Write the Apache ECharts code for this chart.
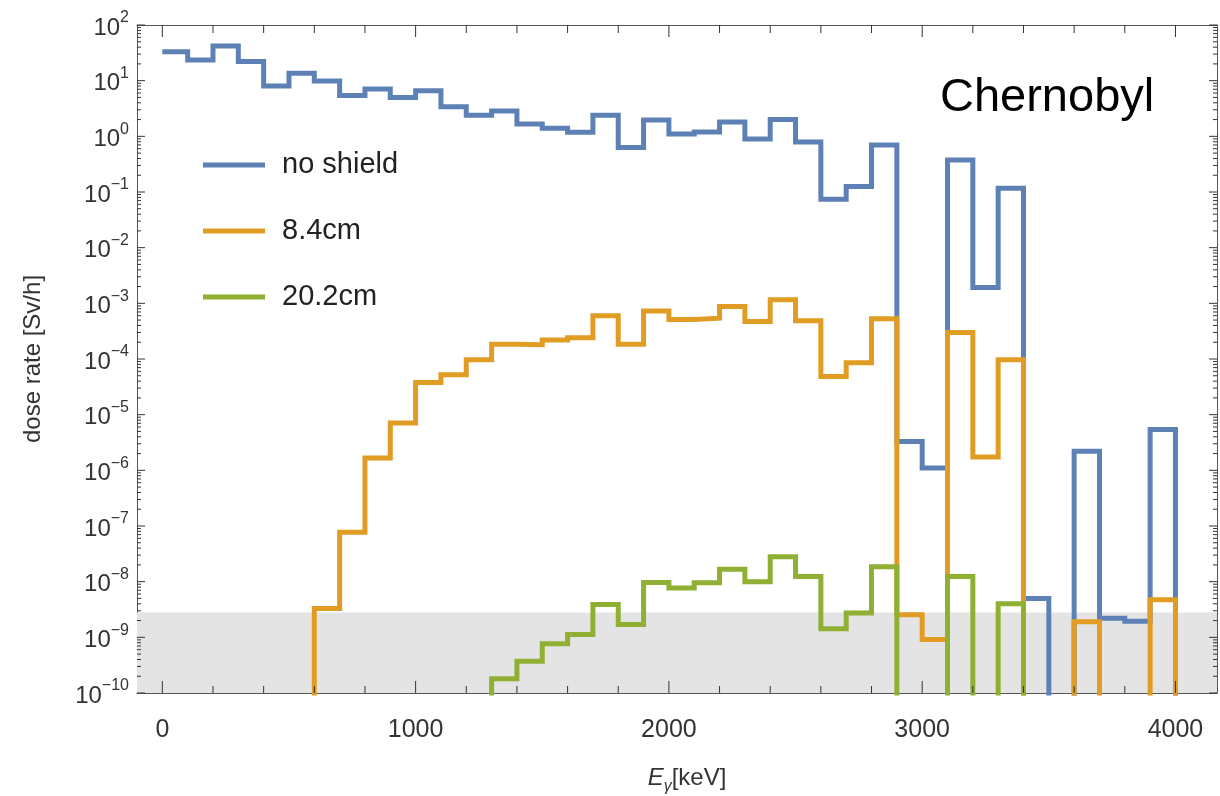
<!DOCTYPE html>
<html>
<head>
<meta charset="utf-8">
<script src="https://cdn.jsdelivr.net/npm/echarts@6/dist/echarts.min.js"></script>
<style>
html,body{margin:0;padding:0;background:#fff;}
#chart{width:1220px;height:796px;}
</style>
</head>
<body>
<div id="chart"></div>
<script>
// ---- data (bin lower edges in keV, 100 keV wide bins; 0 = nothing in this bin) ----
const binEdges = [0,100,200,300,400,500,600,700,800,900,1000,1100,1200,1300,1400,1500,1600,1700,1800,1900,
                  2000,2100,2200,2300,2400,2500,2600,2700,2800,2900,3000,3100,3200,3300,3400,3500,3600,3700,3800,3900,4000];
const seriesNames = ['no shield', '8.4cm', '20.2cm'];
const noShield = [33, 23.5, 42, 22, 8.0, 13.6, 9.9, 5.4, 7.1, 5.0,
                  6.6, 3.4, 2.4, 2.86, 1.67, 1.40, 1.19, 2.4, 0.63, 1.97,
                  1.10, 1.2, 1.8, 0.9, 2.0, 0.79, 0.074, 0.125, 0.70, 3.3e-6,
                  1.1e-6, 0.377, 1.92e-3, 0.117, 5.0e-9, 0, 2.2e-6, 2.2e-9, 1.95e-9, 5.4e-6];
const shield84 = [0, 0, 0, 0, 0, 0, 3.3e-9, 7.7e-8, 1.66e-6, 7.1e-6,
                  3.8e-5, 5.2e-5, 9.7e-5, 1.85e-4, 1.8e-4, 2.2e-4, 2.4e-4, 6.0e-4, 1.85e-4, 7.3e-4,
                  5.1e-4, 5.4e-4, 8.8e-4, 4.7e-4, 1.16e-3, 4.85e-4, 4.85e-5, 8.6e-5, 5.3e-4, 2.55e-9,
                  9.1e-10, 3.0e-4, 1.73e-6, 9.7e-5, 0, 0, 1.9e-9, 0, 0, 4.75e-9];
const shield202 = [0, 0, 0, 0, 0, 0, 0, 0, 0, 0,
                   0, 0, 0, 1.8e-10, 3.7e-10, 7.7e-10, 1.12e-9, 3.9e-9, 1.7e-9, 9.7e-9,
                   7.7e-9, 9.6e-9, 1.67e-8, 1.0e-8, 2.8e-8, 1.24e-8, 1.42e-9, 2.74e-9, 1.86e-8, 0,
                   0, 1.24e-8, 0, 4.0e-9, 0, 0, 0, 0, 0, 0];
const detectionLimit = 2.8e-9;
const xMajorTicks = [0, 1000, 2000, 3000, 4000];
const xMinorTicks = [200, 400, 600, 800, 1200, 1400, 1600, 1800, 2200, 2400, 2600, 2800, 3200, 3400, 3600, 3800];
const yDecadeMin = -10, yDecadeMax = 2;
const plotTitle = 'Chernobyl';

// ---- helpers ----
const FONT = '"Liberation Sans", Arial, Helvetica, sans-serif';
const colors = ['#5E81B5', '#E19C24', '#8FB032'];
const FLOOR = 1e-14; // below the axis minimum, clipped by the grid
const X_MIN = -100, X_MAX = 4164;
const Y_MIN = Math.pow(10, yDecadeMin), Y_MAX = Math.pow(10, yDecadeMax);

function stepPoints(vals) {
  const pts = [];
  for (let i = 0; i < vals.length; i++) {
    const x0 = binEdges[i], x1 = binEdges[i + 1];
    const v = vals[i];
    const prev = i > 0 ? vals[i - 1] : null;
    if (v > 0) {
      if (prev === 0) pts.push([x0, FLOOR]);
      pts.push([x0, v], [x1, v]);
    } else if (prev > 0) {
      pts.push([x0, FLOOR]);
      pts.push([x0, '-']);
    }
  }
  if (vals[vals.length - 1] > 0) pts.push([binEdges[vals.length], FLOOR]);
  return pts;
}

// tick marks: [value, length, side]; x ticks: side 0 = bottom, 1 = top; y ticks: side 0 = left, 1 = right
const xTickMarks = [];
xMajorTicks.forEach(function (v) { xTickMarks.push([v, 12, 0], [v, 12, 1]); });
xMinorTicks.forEach(function (v) { xTickMarks.push([v, 7, 0], [v, 8, 1]); });
const yTickMarks = [];
for (let n = yDecadeMin; n <= yDecadeMax; n++) {
  yTickMarks.push([Math.pow(10, n), 8, 0], [Math.pow(10, n), 8, 1]);
  if (n < yDecadeMax) {
    for (let k = 2; k <= 9; k++) {
      yTickMarks.push([k * Math.pow(10, n), 4, 0], [k * Math.pow(10, n), 4, 1]);
    }
  }
}

const frameLine = { show: true, onZero: false, lineStyle: { color: '#555', width: 1 } };
const noLine = { show: false, onZero: false };

const chart = echarts.init(document.getElementById('chart'), null, { renderer: 'canvas' });

const option = {
  animation: false,
  backgroundColor: '#fff',
  title: {
    text: plotTitle, left: 940, top: 75, padding: 0,
    textStyle: { fontFamily: FONT, fontSize: 47, fontWeight: 'normal', color: '#000' }
  },
  legend: {
    data: seriesNames,
    orient: 'vertical', left: 198, top: 145,
    icon: 'rect', itemWidth: 62, itemHeight: 5, itemGap: 36,
    textStyle: { fontFamily: FONT, fontSize: 29, color: '#222', lineHeight: 30, padding: [0, 0, 0, 12] }
  },
  grid: { left: 137, right: 3, top: 25, bottom: 103, containLabel: false, outerBoundsMode: 'none' },
  xAxis: [
    {
      type: 'value', min: X_MIN, max: X_MAX, position: 'bottom', axisLine: frameLine,
      splitLine: { show: false }, axisTick: { show: false },
      axisLabel: {
        show: true, customValues: xMajorTicks, margin: 25, fontFamily: FONT, fontSize: 25, color: '#333',
        formatter: function (v) { return String(v); }
      },
      name: '{e|E}{g|γ}{k|[keV]}', nameLocation: 'middle', nameGap: 68,
      nameTextStyle: {
        padding: [0, 0, 0, 20],
        rich: {
          e: { fontFamily: FONT, fontSize: 24, fontStyle: 'italic', color: '#333', lineHeight: 34, verticalAlign: 'middle' },
          g: { fontFamily: FONT, fontSize: 16, fontStyle: 'italic', color: '#333', lineHeight: 16, verticalAlign: 'bottom' },
          k: { fontFamily: FONT, fontSize: 24, color: '#333', lineHeight: 34, verticalAlign: 'middle' }
        }
      }
    },
    {
      type: 'value', min: X_MIN, max: X_MAX, position: 'top', axisLine: frameLine,
      splitLine: { show: false }, axisTick: { show: false }, axisLabel: { show: false }
    }
  ],
  yAxis: [
    { // data axis (logarithmic)
      type: 'log', logBase: 10, min: Y_MIN, max: Y_MAX,
      position: 'left', axisLine: frameLine, axisTick: { show: false }, axisLabel: { show: false },
      splitLine: { show: false }
    },
    { // decade labels (exponent scale aligned with the log axis)
      type: 'value', min: yDecadeMin, max: yDecadeMax, interval: 1,
      position: 'left', axisLine: noLine, axisTick: { show: false }, splitLine: { show: false },
      axisLabel: {
        show: true, margin: 8,
        formatter: function (v) {
          const n = Math.round(v);
          const e = n < 0 ? '\u2212' + (-n) : String(n);
          return '{b|10}{s|' + e + '}';
        },
        rich: {
          b: { fontFamily: FONT, fontSize: 24, color: '#333', lineHeight: 30, verticalAlign: 'bottom' },
          s: { fontFamily: FONT, fontSize: 16, color: '#333', lineHeight: 16, verticalAlign: 'top' }
        }
      },
      name: 'dose rate [Sv/h]', nameLocation: 'middle', nameGap: 92, nameRotate: 90,
      nameTextStyle: { fontFamily: FONT, fontSize: 24, color: '#333' }
    },
    {
      type: 'log', logBase: 10, min: Y_MIN, max: Y_MAX, position: 'right', axisLine: frameLine,
      axisTick: { show: false }, axisLabel: { show: false }, splitLine: { show: false }
    }
  ],
  series: [
    {
      name: 'limit', type: 'line', data: [], xAxisIndex: 0, yAxisIndex: 0, z: 1, silent: true,
      markArea: {
        silent: true, itemStyle: { color: '#E4E4E4' },
        data: [[{ yAxis: Y_MIN }, { yAxis: detectionLimit }]]
      }
    }
  ].concat([noShield, shield84, shield202].map(function (vals, i) {
    return {
      name: seriesNames[i], type: 'line', xAxisIndex: 0, yAxisIndex: 0,
      data: stepPoints(vals), showSymbol: false, symbol: 'none', clip: true,
      connectNulls: false, color: colors[i], z: 3 + i,
      lineStyle: { color: colors[i], width: 5, join: 'miter', cap: 'butt' }
    };
  })).concat([
    {
      name: 'xticks', type: 'custom', xAxisIndex: 0, yAxisIndex: 0, z: 10, silent: true,
      data: xTickMarks,
      renderItem: function (params, api) {
        const x = api.value(0), len = api.value(1), side = api.value(2);
        const p = api.coord([x, side ? Y_MAX : Y_MIN]);
        return {
          type: 'line',
          shape: { x1: p[0], y1: p[1], x2: p[0], y2: side ? p[1] + len : p[1] - len },
          style: { stroke: '#333', lineWidth: 1 }
        };
      }
    },
    {
      name: 'yticks', type: 'custom', xAxisIndex: 0, yAxisIndex: 0, z: 10, silent: true,
      data: yTickMarks.map(function (t) { return [X_MIN, t[0], t[1], t[2]]; }),
      renderItem: function (params, api) {
        const v = api.value(1), len = api.value(2), side = api.value(3);
        const p = api.coord([side ? X_MAX : X_MIN, v]);
        return {
          type: 'line',
          shape: { x1: p[0], y1: p[1], x2: side ? p[0] - len : p[0] + len, y2: p[1] },
          style: { stroke: '#333', lineWidth: 1 }
        };
      }
    }
  ])
};
chart.setOption(option);
</script>
</body>
</html>
